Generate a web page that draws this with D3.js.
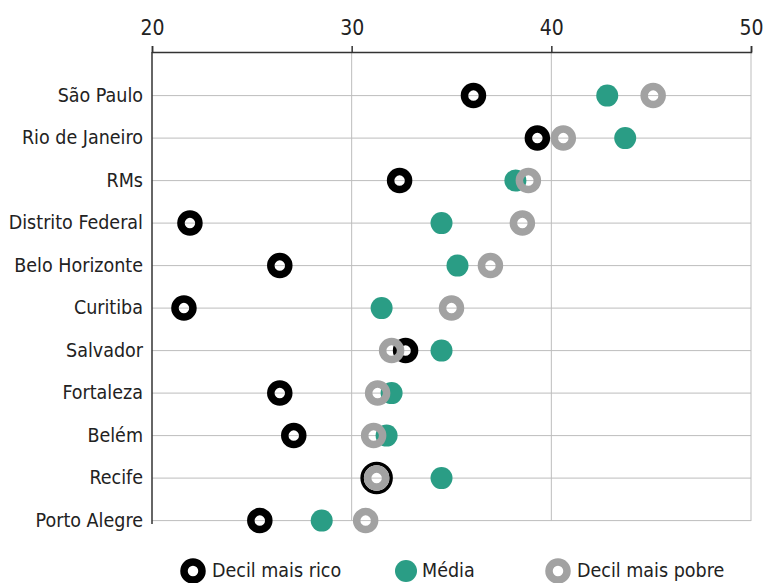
<!DOCTYPE html>
<html>
<head>
<meta charset="utf-8">
<script src="https://cdn.jsdelivr.net/npm/d3@7"></script>
<style>
  body { margin: 0; background: #fff; }
  svg text { font-family: "Liberation Sans Narrow", "Arial Narrow", "DejaVu Sans Condensed", sans-serif; fill: #222; }
</style>
</head>
<body>
<svg id="chart"></svg>
<script>
var width = 763,
    height = 583;

var cities = ["São Paulo", "Rio de Janeiro", "RMs", "Distrito Federal", "Belo Horizonte",
              "Curitiba", "Salvador", "Fortaleza", "Belém", "Recife", "Porto Alegre"];
var richest = [36.1, 39.3, 32.4, 21.9, 26.4, 21.6, 32.7, 26.4, 27.1, 31.25, 25.4];
var average = [42.8, 43.7, 38.2, 34.5, 35.3, 31.5, 34.5, 32.0, 31.75, 34.5, 28.5];
var poorest = [45.1, 40.6, 38.85, 38.55, 36.95, 35.0, 32.0, 31.3, 31.1, 31.25, 30.7];
var xTicks = [20, 30, 40, 50];
var legendLabels = ["Decil mais rico", "Média", "Decil mais pobre"];

var teal = "#2a9d85", grey = "#a2a2a2";

var svg = d3.select('#chart')
            .attr('width', width)
            .attr('height', height);

var x = d3.scaleLinear().domain([20, 50]).range([152, 751]);
var y = d3.scalePoint().domain(cities).range([95.6, 520.6]);

var plotTop = 52, plotBottom = 521;

// vertical grid
svg.append('g')
   .selectAll('line')
   .data(xTicks.slice(1))
   .enter().append('line')
     .attr('x1', d => x(d)).attr('x2', d => x(d))
     .attr('y1', plotTop).attr('y2', plotBottom)
     .attr('stroke', '#bdbdbd').attr('stroke-width', 1);

// horizontal grid
svg.append('g')
   .selectAll('line')
   .data(cities)
   .enter().append('line')
     .attr('x1', x(20)).attr('x2', x(50))
     .attr('y1', d => y(d)).attr('y2', d => y(d))
     .attr('stroke', '#bdbdbd').attr('stroke-width', 1);

// top axis
var xAxis = svg.append('g')
   .attr('transform', 'translate(0,' + plotTop + ')')
   .call(d3.axisTop(x).tickValues(xTicks).tickSize(6).tickPadding(11));
xAxis.select('.domain').attr('stroke', '#333').attr('stroke-width', 1.5);
xAxis.selectAll('.tick line').attr('stroke', '#333').attr('stroke-width', 1.5);
xAxis.selectAll('.tick text').attr('font-size', 21).attr('font-family', null).attr('fill', '#222');

// left axis line
svg.append('line')
   .attr('x1', x(20)).attr('x2', x(20))
   .attr('y1', plotTop).attr('y2', 524)
   .attr('stroke', '#333').attr('stroke-width', 1.5);

// city labels
svg.append('g')
   .selectAll('text')
   .data(cities)
   .enter().append('text')
     .attr('x', x(20) - 9)
     .attr('y', d => y(d) + 6)
     .attr('text-anchor', 'end')
     .attr('font-size', 19.5)
     .text(d => d);

// markers: richest, average, poorest (poorest on top)
var rows = cities.map((c, i) => ({city: c, rich: richest[i], avg: average[i], poor: poorest[i]}));

svg.append('g')
   .selectAll('circle')
   .data(rows)
   .enter().append('circle')
     .attr('cx', d => x(d.rich))
     .attr('cy', d => y(d.city))
     .attr('r', d => Math.abs(d.rich - d.poor) < 0.1 ? 14.5 : 9)
     .attr('fill', 'none')
     .attr('stroke', '#000')
     .attr('stroke-width', d => Math.abs(d.rich - d.poor) < 0.1 ? 3.5 : 7.5);

svg.append('g')
   .selectAll('circle')
   .data(rows)
   .enter().append('circle')
     .attr('cx', d => x(d.avg))
     .attr('cy', d => y(d.city))
     .attr('r', 11)
     .attr('fill', teal);

svg.append('g')
   .selectAll('circle')
   .data(rows)
   .enter().append('circle')
     .attr('cx', d => x(d.poor))
     .attr('cy', d => y(d.city))
     .attr('r', 9)
     .attr('fill', 'none')
     .attr('stroke', grey)
     .attr('stroke-width', 7.5);

// legend
var legendX = [193, 406, 558];
var legendY = 571;
var legend = svg.append('g')
   .selectAll('g')
   .data(legendLabels)
   .enter().append('g')
     .attr('transform', (d, i) => 'translate(' + legendX[i] + ',' + legendY + ')');

legend.append('circle')
   .attr('r', (d, i) => i === 1 ? 11 : 9)
   .attr('fill', (d, i) => i === 1 ? teal : 'none')
   .attr('stroke', (d, i) => i === 0 ? '#000' : i === 2 ? grey : 'none')
   .attr('stroke-width', (d, i) => i === 1 ? 0 : 7.5);

legend.append('text')
   .attr('x', (d, i) => i === 1 ? 16 : 19)
   .attr('y', 6)
   .attr('font-size', 19.5)
   .text(d => d);
</script>
</body>
</html>
